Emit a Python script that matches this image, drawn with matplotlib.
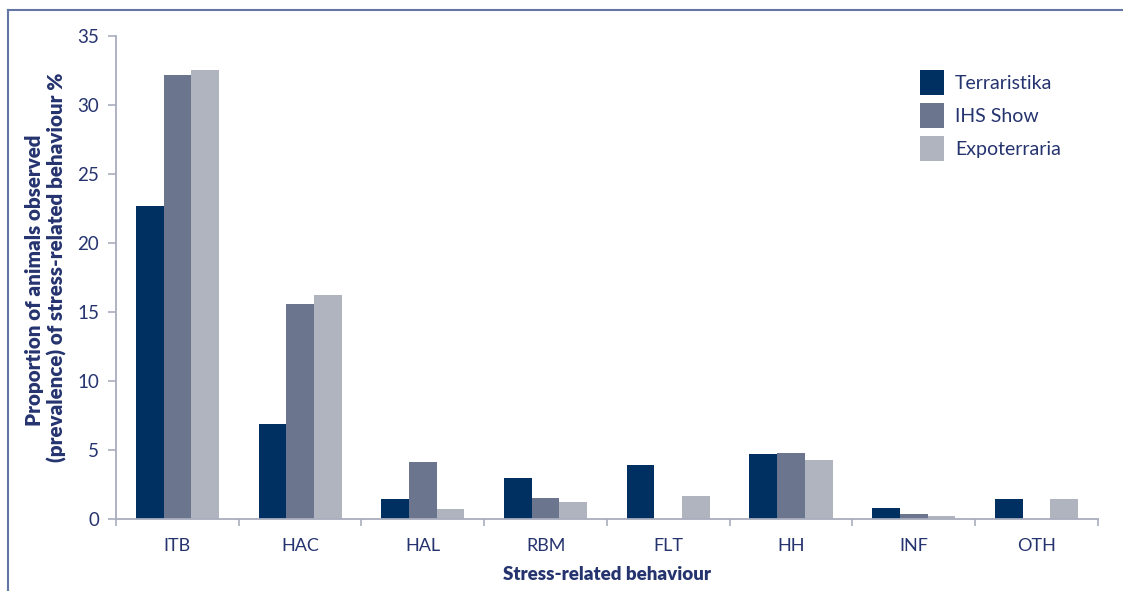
import matplotlib.pyplot as plt
import matplotlib.lines as mlines
import numpy as np

# data
behaviours = ['ITB', 'HAC', 'HAL', 'RBM', 'FLT', 'HH', 'INF', 'OTH']
terraristika = [22.7, 6.9, 1.45, 2.95, 3.9, 4.7, 0.8, 1.45]
ihs_show = [32.15, 15.6, 4.1, 1.5, 0, 4.75, 0.35, 0]
expoterraria = [32.5, 16.25, 0.7, 1.2, 1.65, 4.3, 0.25, 1.45]

series = [('Terraristika', terraristika, '#002f62'),
          ('IHS Show', ihs_show, '#6b768e'),
          ('Expoterraria', expoterraria, '#afb4be')]

text_col = '#25336f'
axis_col = '#a9aebd'

plt.rcParams['font.family'] = ['Lato', 'DejaVu Sans']

W, H = 1123, 591
fig = plt.figure(figsize=(W / 100, H / 100), dpi=100)
ax = fig.add_axes([0.1033, 0.1218, 0.8744, 0.8173])

x = np.arange(len(behaviours))
width = 0.226
for i, (name, vals, col) in enumerate(series):
    ax.bar(x + (i - 1) * width, vals, width=width, color=col, label=name)

ax.set_xlim(-0.5, len(behaviours) - 0.5)
ax.set_ylim(0, 35)
ax.set_yticks(range(0, 36, 5))
ax.set_xticks(x)
ax.set_xticklabels(behaviours)
ax.set_xticks(np.arange(-0.5, len(behaviours)), minor=True)
ax.tick_params(axis='x', which='major', length=0, pad=14, labelsize=13, labelcolor=text_col)
ax.tick_params(axis='x', which='minor', length=5, color=axis_col, width=1.2)
ax.tick_params(axis='y', length=6, color=axis_col, width=1.2, pad=6, labelsize=13.5, labelcolor=text_col)

for s in ['top', 'right']:
    ax.spines[s].set_visible(False)
for s in ['left', 'bottom']:
    ax.spines[s].set_color(axis_col)
    ax.spines[s].set_linewidth(1.3)

ax.set_xlabel('Stress-related behaviour', fontsize=13.5, fontweight='heavy', color=text_col, labelpad=8)

# y label, two lines placed as in the original
fig.text(35 / W, 1 - 280 / H, 'Proportion of animals observed', rotation=90,
         ha='center', va='center', fontsize=14.8, fontweight='heavy', color=text_col)
fig.text(57 / W, 1 - 267 / H, '(prevalence) of stress-related behaviour %', rotation=90,
         ha='center', va='center', fontsize=14.8, fontweight='heavy', color=text_col)

ax.legend(loc='upper left', bbox_to_anchor=(0.811, 0.945), frameon=False, fontsize=14,
          handlelength=1.25, handleheight=1.6, handletextpad=0.55, labelspacing=0.4,
          labelcolor=text_col, borderaxespad=0)

# frame lines of the figure box
fig.add_artist(mlines.Line2D([8 / W, 1], [1 - 10 / H, 1 - 10 / H], color='#6475a3', lw=1.5))
fig.add_artist(mlines.Line2D([8 / W, 8 / W], [0, 1 - 10 / H], color='#6475a3', lw=1.5))

fig.savefig('out.png', dpi=100)
